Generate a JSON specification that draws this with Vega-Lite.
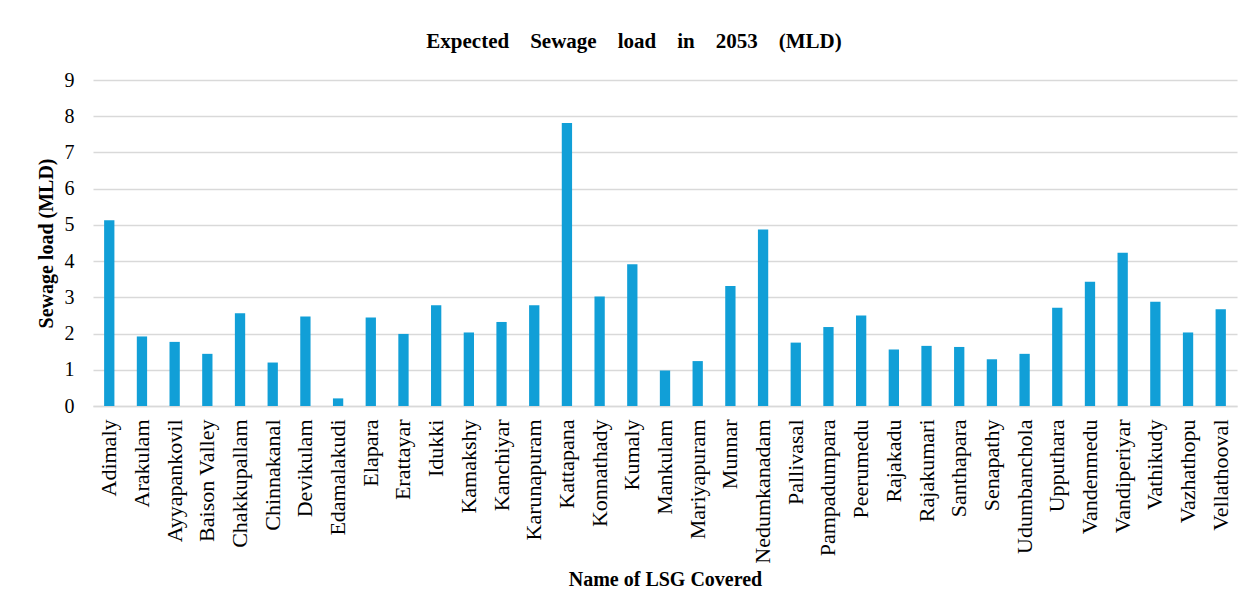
{
  "$schema": "https://vega.github.io/schema/vega-lite/v6.json",
  "autosize": {"type": "none"},
  "width": 1144,
  "height": 326,
  "padding": {"left": 93, "top": 80, "right": 12, "bottom": 205},
  "background": "white",
  "title": {
    "text": "Expected\u00a0\u00a0\u00a0\u00a0Sewage\u00a0\u00a0\u00a0\u00a0load\u00a0\u00a0\u00a0\u00a0in\u00a0\u00a0\u00a0\u00a02053\u00a0\u00a0\u00a0\u00a0(MLD)",
    "font": "Liberation Serif",
    "fontSize": 21,
    "fontWeight": "bold",
    "color": "#000000",
    "anchor": "middle",
    "frame": "group",
    "dx": -31,
    "offset": 18
  },
  "data": {
    "values": [
      {"lsg": "Adimaly", "load": 5.13},
      {"lsg": "Arakulam", "load": 1.92},
      {"lsg": "Ayyapankovil", "load": 1.77},
      {"lsg": "Baison Valley", "load": 1.44},
      {"lsg": "Chakkupallam", "load": 2.56},
      {"lsg": "Chinnakanal", "load": 1.2},
      {"lsg": "Devikulam", "load": 2.47},
      {"lsg": "Edamalakudi", "load": 0.21},
      {"lsg": "Elapara", "load": 2.44},
      {"lsg": "Erattayar", "load": 1.99},
      {"lsg": "Idukki", "load": 2.78},
      {"lsg": "Kamakshy", "load": 2.03},
      {"lsg": "Kanchiyar", "load": 2.32},
      {"lsg": "Karunapuram", "load": 2.78},
      {"lsg": "Kattapana", "load": 7.81},
      {"lsg": "Konnathady", "load": 3.02},
      {"lsg": "Kumaly", "load": 3.91},
      {"lsg": "Mankulam", "load": 0.98},
      {"lsg": "Mariyapuram", "load": 1.24},
      {"lsg": "Munnar", "load": 3.31},
      {"lsg": "Nedumkanadam", "load": 4.87},
      {"lsg": "Pallivasal", "load": 1.75},
      {"lsg": "Pampadumpara", "load": 2.18},
      {"lsg": "Peerumedu", "load": 2.5},
      {"lsg": "Rajakadu", "load": 1.56},
      {"lsg": "Rajakumari", "load": 1.66},
      {"lsg": "Santhapara", "load": 1.63},
      {"lsg": "Senapathy", "load": 1.29},
      {"lsg": "Udumbanchola", "load": 1.44},
      {"lsg": "Upputhara", "load": 2.71},
      {"lsg": "Vandenmedu", "load": 3.43},
      {"lsg": "Vandiperiyar", "load": 4.23},
      {"lsg": "Vathikudy", "load": 2.88},
      {"lsg": "Vazhathopu", "load": 2.03},
      {"lsg": "Vellathooval", "load": 2.67}
    ]
  },
  "mark": {"type": "bar", "color": "#119FD7"},
  "encoding": {
    "x": {
      "field": "lsg",
      "type": "nominal",
      "sort": null,
      "scale": {"paddingInner": 0.685, "paddingOuter": 0.34},
      "axis": {
        "title": "Name of LSG Covered",
        "titleFont": "Liberation Serif",
        "titleFontSize": 20,
        "titleFontWeight": "bold",
        "titleColor": "#000000",
        "titlePadding": 6,
        "labelFont": "Liberation Serif",
        "labelFontSize": 22,
        "labelColor": "#000000",
        "labelAngle": -90,
        "labelPadding": 13,
        "labelLimit": 300,
        "ticks": false,
        "domain": true,
        "domainColor": "#d9d9d9",
        "domainWidth": 1.5
      }
    },
    "y": {
      "field": "load",
      "type": "quantitative",
      "scale": {"domain": [0, 9]},
      "axis": {
        "title": "Sewage load (MLD)",
        "titleFont": "Liberation Serif",
        "titleFontSize": 20,
        "titleFontWeight": "bold",
        "titleColor": "#000000",
        "titlePadding": 8,
        "labelFont": "Liberation Serif",
        "labelFontSize": 20,
        "labelColor": "#000000",
        "labelPadding": 19,
        "values": [0, 1, 2, 3, 4, 5, 6, 7, 8, 9],
        "ticks": false,
        "domain": false,
        "grid": true,
        "gridColor": "#d9d9d9",
        "gridWidth": 1.5
      }
    }
  },
  "config": {"view": {"stroke": null}}
}
